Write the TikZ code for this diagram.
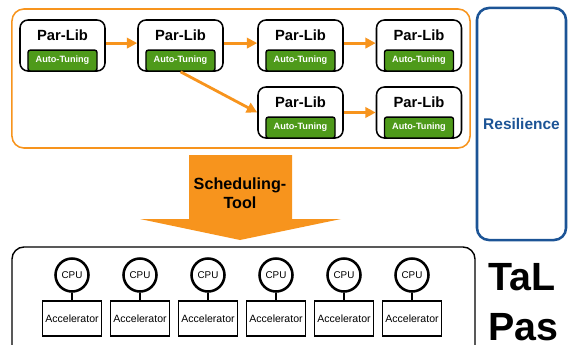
\documentclass[tikz,border=0pt]{standalone}
\usepackage{fontspec}
\setmainfont{Liberation Sans}
\usepackage{tikz}
\usetikzlibrary{arrows.meta,positioning,calc}

\definecolor{flowor}{RGB}{247,148,29}
\definecolor{tunegreen}{RGB}{78,154,26}
\definecolor{resblue}{RGB}{28,84,150}

\begin{document}
\begin{tikzpicture}[x=0.025cm, y=-0.025cm,
  libbox/.style={draw, line width=1.1pt, rounded corners=0.2cm, minimum width=2.125cm, minimum height=1.275cm, fill=white},
  libtitle/.style={font=\fontsize{10.5}{12}\selectfont\bfseries, anchor=base, inner sep=0pt},
  tunebox/.style={draw, line width=1pt, rounded corners=0.06cm, fill=tunegreen, text=white, font=\fontsize{6.5}{7}\selectfont\bfseries, minimum width=1.725cm, minimum height=0.525cm, inner sep=0pt, anchor=south},
  flow/.style={flowor, line width=2pt, -{Triangle[length=2.6mm,width=2.6mm]}},
  cpu/.style={draw, circle, line width=1.8pt, minimum size=0.825cm, inner sep=0pt, font=\fontsize{7}{8}\selectfont},
  accel/.style={draw, line width=0.8pt, minimum width=1.475cm, minimum height=0.875cm, inner sep=0pt, font=\fontsize{7.5}{8}\selectfont}]
  \useasboundingbox (0,0) rectangle (568,344);
  % ---- library group
  \node[draw=flowor, line width=1.1pt, rounded corners=0.3cm, minimum width=11.45cm, minimum height=3.475cm] (libgroup) at (241,78.5) {};
  \foreach \n/\x/\y in {1/62.5/45.5, 2/180.5/45.5, 3/300.5/45.5, 4/419/45.5, 5/300.5/112.5, 6/419/112.5} {
    \node[libbox] (lib\n) at (\x,\y) {};
    \node[libtitle] (title\n) at ([yshift=-0.54cm]lib\n.north) {Par-Lib};
    \node[tunebox] (tune\n) at (lib\n.south) {Auto-Tuning};
  }
  \draw[flow] ([yshift=0.06cm]lib1.east) -- ([yshift=0.06cm]lib2.west);
  \draw[flow] ([yshift=0.06cm]lib2.east) -- ([yshift=0.06cm]lib3.west);
  \draw[flow] ([yshift=0.06cm]lib3.east) -- ([yshift=0.06cm]lib4.west);
  \draw[flow] (lib2.south) -- (lib5.west);
  \draw[flow] (lib5.east) -- (lib6.west);
  % ---- resilience
  \node[draw=resblue, line width=1.8pt, rounded corners=0.3cm, minimum width=2.225cm, minimum height=5.8cm, text=resblue, font=\fontsize{11}{13}\selectfont\bfseries] (resil) at (521.5,124) {Resilience};
  % ---- scheduling tool
  \fill[flowor] (189,155) -- (292,155) -- (292,219) -- (341,219) -- (240,240) -- (140,219) -- (189,219) -- cycle;
  \node[font=\fontsize{11.5}{13.5}\selectfont\bfseries, align=center] (sched) at (240,193) {Scheduling-\\Tool};
  % ---- hardware
  \draw[line width=1pt, rounded corners=0.3cm] (12,247) rectangle (475,370);
  \foreach \i in {1,...,6} {
    \node[cpu] (cpu\i) at ({4+68*\i},275) {CPU};
    \node[accel] (acc\i) at ({4+68*\i},318.5) {Accelerator};
    \draw[line width=1pt] (cpu\i) -- (acc\i);
  }
  \node[anchor=base west, inner sep=0pt, font=\fontsize{28}{30}\selectfont\bfseries] (tal) at (488,290) {TaL};
  \node[anchor=base west, inner sep=0pt, font=\fontsize{28}{30}\selectfont\bfseries] (pas) at (488,340) {Pas};
\end{tikzpicture}
\end{document}
